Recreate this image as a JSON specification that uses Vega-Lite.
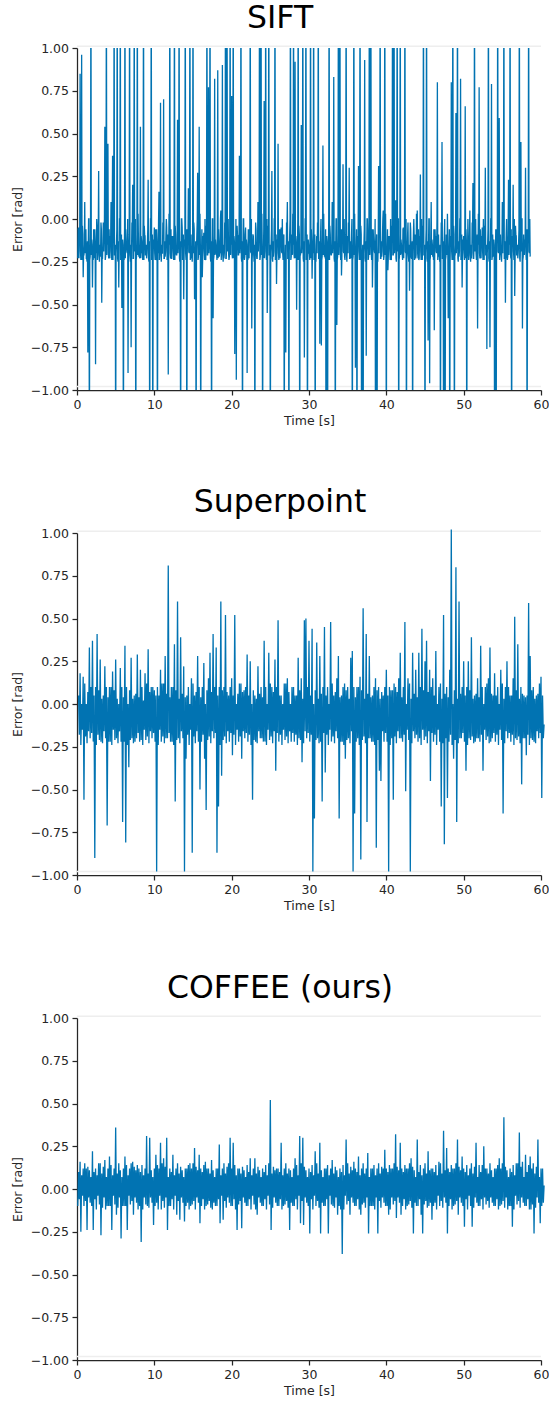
{
"$schema":"https://vega.github.io/schema/vega-lite/v6.json",
"padding":{"left":11,"top":2,"right":0,"bottom":0},
"spacing":60,
"config":{"view":{"stroke":null},"font":"DejaVu Sans",
"axis":{"grid":false,"domainColor":"#262626","domainWidth":1.25,"tickColor":"#262626","tickWidth":1.25,"tickSize":5,"labelColor":"#262626","labelFontSize":12.5,"labelFont":"DejaVu Sans","labelPadding":3.5,"titleFont":"DejaVu Sans","titleFontSize":12.5,"titleFontWeight":"normal","titleColor":"#262626","labelFlush":false,"labelOverlap":false},
"axisY":{"titlePadding":6},"axisX":{"titlePadding":3},
"title":{"fontSize":31.5,"font":"DejaVu Sans","fontWeight":"normal","color":"#000000","anchor":"middle","frame":"bounds","offset":8}},
"datasets":{
"lim":[{"y":1.01},{"y":-0.98}],
"sift":[
{"t":0.1,"e":-0.23},{"t":0.15,"e":-0.06},{"t":0.2,"e":-0.05},{"t":0.25,"e":-0.23},{"t":0.3,"e":-0.1},{"t":0.35,"e":-0.13},{"t":0.4,"e":0.85},{"t":0.45,"e":-0.19},{"t":0.5,"e":-0.24},{"t":0.55,"e":0.0},{"t":0.6,"e":0.96},{"t":0.65,"e":-0.24},{"t":0.7,"e":-0.04},{"t":0.75,"e":-0.09},{"t":0.8,"e":-0.34},{"t":0.85,"e":-0.21},{"t":0.9,"e":-0.21},{"t":0.95,"e":-0.15},{"t":1.0,"e":0.1},{"t":1.05,"e":-0.2},
{"t":1.1,"e":-0.15},{"t":1.15,"e":-0.06},{"t":1.2,"e":-0.23},{"t":1.25,"e":-0.23},{"t":1.3,"e":-0.25},{"t":1.35,"e":-0.13},{"t":1.4,"e":-0.78},{"t":1.45,"e":-0.19},{"t":1.5,"e":0.0},{"t":1.55,"e":0.0},{"t":1.6,"e":-1.5},{"t":1.65,"e":-0.24},{"t":1.7,"e":-0.22},{"t":1.75,"e":-0.09},{"t":1.8,"e":1.5},{"t":1.85,"e":-0.21},{"t":1.9,"e":-0.12},{"t":1.95,"e":-0.15},{"t":2.0,"e":-0.4},{"t":2.05,"e":-0.2},
{"t":2.1,"e":-0.24},{"t":2.15,"e":-0.06},{"t":2.2,"e":-0.1},{"t":2.25,"e":-0.23},{"t":2.3,"e":-0.06},{"t":2.35,"e":-0.13},{"t":2.4,"e":-0.85},{"t":2.45,"e":-0.19},{"t":2.5,"e":-0.2},{"t":2.55,"e":0.0},{"t":2.6,"e":-0.05},{"t":2.65,"e":-0.24},{"t":2.7,"e":-0.17},{"t":2.75,"e":-0.09},{"t":2.8,"e":0.28},{"t":2.85,"e":-0.21},{"t":2.9,"e":-0.25},{"t":2.95,"e":-0.15},{"t":3.0,"e":-0.22},{"t":3.05,"e":-0.2},
{"t":3.1,"e":-0.02},{"t":3.15,"e":-0.06},{"t":3.2,"e":-0.49},{"t":3.25,"e":-0.23},{"t":3.3,"e":-0.23},{"t":3.35,"e":-0.13},{"t":3.4,"e":-0.02},{"t":3.45,"e":-0.19},{"t":3.5,"e":-0.09},{"t":3.55,"e":0.0},{"t":3.6,"e":0.54},{"t":3.65,"e":-0.24},{"t":3.7,"e":-0.22},{"t":3.75,"e":-0.09},{"t":3.8,"e":1.5},{"t":3.85,"e":-0.21},{"t":3.9,"e":0.03},{"t":3.95,"e":-0.15},{"t":4.0,"e":0.44},{"t":4.05,"e":-0.2},
{"t":4.1,"e":-0.23},{"t":4.15,"e":-0.06},{"t":4.2,"e":-0.2},{"t":4.25,"e":-0.23},{"t":4.3,"e":-0.1},{"t":4.35,"e":-0.13},{"t":4.4,"e":0.1},{"t":4.45,"e":-0.19},{"t":4.5,"e":-0.24},{"t":4.55,"e":0.0},{"t":4.6,"e":0.37},{"t":4.65,"e":-0.24},{"t":4.7,"e":-0.04},{"t":4.75,"e":-0.09},{"t":4.8,"e":1.5},{"t":4.85,"e":-0.21},{"t":4.9,"e":-0.21},{"t":4.95,"e":-0.15},{"t":5.0,"e":-1.5},{"t":5.05,"e":-0.2},
{"t":5.1,"e":-0.15},{"t":5.15,"e":-0.06},{"t":5.2,"e":1.5},{"t":5.25,"e":-0.23},{"t":5.3,"e":-0.25},{"t":5.35,"e":-0.13},{"t":5.4,"e":-0.4},{"t":5.45,"e":-0.19},{"t":5.5,"e":0.0},{"t":5.55,"e":0.0},{"t":5.6,"e":1.5},{"t":5.65,"e":-0.24},{"t":5.7,"e":-0.22},{"t":5.75,"e":-0.09},{"t":5.8,"e":-0.52},{"t":5.85,"e":-0.21},{"t":5.9,"e":-0.12},{"t":5.95,"e":-0.15},{"t":6.0,"e":-1.5},{"t":6.05,"e":-0.2},
{"t":6.1,"e":-0.24},{"t":6.15,"e":-0.06},{"t":6.2,"e":1.5},{"t":6.25,"e":-0.23},{"t":6.3,"e":-0.06},{"t":6.35,"e":-0.13},{"t":6.4,"e":-0.15},{"t":6.45,"e":-0.19},{"t":6.5,"e":-0.2},{"t":6.55,"e":0.0},{"t":6.6,"e":-0.9},{"t":6.65,"e":-0.24},{"t":6.7,"e":-0.17},{"t":6.75,"e":-0.09},{"t":6.8,"e":1.5},{"t":6.85,"e":-0.21},{"t":6.9,"e":-0.25},{"t":6.95,"e":-0.15},{"t":7.0,"e":-0.75},{"t":7.05,"e":-0.2},
{"t":7.1,"e":-0.02},{"t":7.15,"e":-0.06},{"t":7.2,"e":0.2},{"t":7.25,"e":-0.23},{"t":7.3,"e":-0.23},{"t":7.35,"e":-0.13},{"t":7.4,"e":1.5},{"t":7.45,"e":-0.19},{"t":7.5,"e":-0.09},{"t":7.55,"e":0.0},{"t":7.6,"e":-1.5},{"t":7.65,"e":-0.24},{"t":7.7,"e":-0.22},{"t":7.75,"e":-0.09},{"t":7.8,"e":1.5},{"t":7.85,"e":-0.21},{"t":7.9,"e":0.03},{"t":7.95,"e":-0.15},{"t":8.0,"e":-0.22},{"t":8.05,"e":-0.2},
{"t":8.1,"e":-0.23},{"t":8.15,"e":-0.06},{"t":8.2,"e":0.54},{"t":8.25,"e":-0.23},{"t":8.3,"e":-0.1},{"t":8.35,"e":-0.13},{"t":8.4,"e":-0.2},{"t":8.45,"e":-0.19},{"t":8.5,"e":-0.24},{"t":8.55,"e":0.0},{"t":8.6,"e":1.5},{"t":8.65,"e":-0.24},{"t":8.7,"e":-0.04},{"t":8.75,"e":-0.09},{"t":8.8,"e":-0.1},{"t":8.85,"e":-0.21},{"t":8.9,"e":-0.21},{"t":8.95,"e":-0.15},{"t":9.0,"e":-0.23},{"t":9.05,"e":-0.2},
{"t":9.1,"e":-0.15},{"t":9.15,"e":-0.06},{"t":9.2,"e":0.23},{"t":9.25,"e":-0.23},{"t":9.3,"e":-0.25},{"t":9.35,"e":-0.13},{"t":9.4,"e":-1.5},{"t":9.45,"e":-0.19},{"t":9.5,"e":0.0},{"t":9.55,"e":0.0},{"t":9.6,"e":1.5},{"t":9.65,"e":-0.24},{"t":9.7,"e":-0.22},{"t":9.75,"e":-0.09},{"t":9.8,"e":-1.5},{"t":9.85,"e":-0.21},{"t":9.9,"e":-0.12},{"t":9.95,"e":-0.15},{"t":10.0,"e":-0.05},{"t":10.05,"e":-0.2},
{"t":10.1,"e":-0.24},{"t":10.15,"e":-0.06},{"t":10.2,"e":-0.24},{"t":10.25,"e":-0.23},{"t":10.3,"e":-0.06},{"t":10.35,"e":-0.13},{"t":10.4,"e":-1.5},{"t":10.45,"e":-0.19},{"t":10.5,"e":-0.2},{"t":10.55,"e":0.0},{"t":10.6,"e":0.16},{"t":10.65,"e":-0.24},{"t":10.7,"e":-0.17},{"t":10.75,"e":-0.09},{"t":10.8,"e":0.68},{"t":10.85,"e":-0.21},{"t":10.9,"e":-0.25},{"t":10.95,"e":-0.15},{"t":11.0,"e":-0.2},{"t":11.05,"e":-0.2},
{"t":11.1,"e":-0.02},{"t":11.15,"e":-0.06},{"t":11.2,"e":0.7},{"t":11.25,"e":-0.23},{"t":11.3,"e":-0.23},{"t":11.35,"e":-0.13},{"t":11.4,"e":-0.22},{"t":11.45,"e":-0.19},{"t":11.5,"e":-0.09},{"t":11.55,"e":0.0},{"t":11.6,"e":-0.05},{"t":11.65,"e":-0.24},{"t":11.7,"e":-0.22},{"t":11.75,"e":-0.09},{"t":11.8,"e":-0.91},{"t":11.85,"e":-0.21},{"t":11.9,"e":0.03},{"t":11.95,"e":-0.15},{"t":12.0,"e":1.5},{"t":12.05,"e":-0.2},
{"t":12.1,"e":-0.23},{"t":12.15,"e":-0.06},{"t":12.2,"e":-0.23},{"t":12.25,"e":-0.23},{"t":12.3,"e":-0.1},{"t":12.35,"e":-0.13},{"t":12.4,"e":-0.1},{"t":12.45,"e":-0.19},{"t":12.5,"e":-0.24},{"t":12.55,"e":0.0},{"t":12.6,"e":1.5},{"t":12.65,"e":-0.24},{"t":12.7,"e":-0.04},{"t":12.75,"e":-0.09},{"t":12.8,"e":-0.2},{"t":12.85,"e":-0.21},{"t":12.9,"e":-0.21},{"t":12.95,"e":-0.15},{"t":13.0,"e":0.58},{"t":13.05,"e":-0.2},
{"t":13.1,"e":-0.15},{"t":13.15,"e":-0.06},{"t":13.2,"e":1.5},{"t":13.25,"e":-0.23},{"t":13.3,"e":-0.25},{"t":13.35,"e":-0.13},{"t":13.4,"e":-1.5},{"t":13.45,"e":-0.19},{"t":13.5,"e":0.0},{"t":13.55,"e":0.0},{"t":13.6,"e":-0.05},{"t":13.65,"e":-0.24},{"t":13.7,"e":-0.22},{"t":13.75,"e":-0.09},{"t":13.8,"e":-0.47},{"t":13.85,"e":-0.21},{"t":13.9,"e":-0.12},{"t":13.95,"e":-0.15},{"t":14.0,"e":1.5},{"t":14.05,"e":-0.2},
{"t":14.1,"e":-0.24},{"t":14.15,"e":-0.06},{"t":14.2,"e":-1.5},{"t":14.25,"e":-0.23},{"t":14.3,"e":-0.06},{"t":14.35,"e":-0.13},{"t":14.4,"e":0.18},{"t":14.45,"e":-0.19},{"t":14.5,"e":-0.2},{"t":14.55,"e":0.0},{"t":14.6,"e":1.5},{"t":14.65,"e":-0.24},{"t":14.7,"e":-0.17},{"t":14.75,"e":-0.09},{"t":14.8,"e":-0.23},{"t":14.85,"e":-0.21},{"t":14.9,"e":-0.25},{"t":14.95,"e":-0.15},{"t":15.0,"e":1.5},{"t":15.05,"e":-0.2},
{"t":15.1,"e":-0.02},{"t":15.15,"e":-0.06},{"t":15.2,"e":-0.47},{"t":15.25,"e":-0.23},{"t":15.3,"e":-0.23},{"t":15.35,"e":-0.13},{"t":15.4,"e":-1.5},{"t":15.45,"e":-0.19},{"t":15.5,"e":-0.09},{"t":15.55,"e":0.0},{"t":15.6,"e":0.27},{"t":15.65,"e":-0.24},{"t":15.7,"e":-0.22},{"t":15.75,"e":-0.09},{"t":15.8,"e":0.54},{"t":15.85,"e":-0.21},{"t":15.9,"e":0.03},{"t":15.95,"e":-0.15},{"t":16.0,"e":-1.5},{"t":16.05,"e":-0.2},
{"t":16.1,"e":-0.23},{"t":16.15,"e":-0.06},{"t":16.2,"e":-0.34},{"t":16.25,"e":-0.23},{"t":16.3,"e":-0.1},{"t":16.35,"e":-0.13},{"t":16.4,"e":-0.08},{"t":16.45,"e":-0.19},{"t":16.5,"e":-0.24},{"t":16.55,"e":0.0},{"t":16.6,"e":-0.23},{"t":16.65,"e":-0.24},{"t":16.7,"e":-0.04},{"t":16.75,"e":-0.09},{"t":16.8,"e":1.5},{"t":16.85,"e":-0.21},{"t":16.9,"e":-0.21},{"t":16.95,"e":-0.15},{"t":17.0,"e":0.77},{"t":17.05,"e":-0.2},
{"t":17.1,"e":-0.15},{"t":17.15,"e":-0.06},{"t":17.2,"e":1.5},{"t":17.25,"e":-0.23},{"t":17.3,"e":-0.25},{"t":17.35,"e":-0.13},{"t":17.4,"e":-1.5},{"t":17.45,"e":-0.19},{"t":17.5,"e":0.0},{"t":17.55,"e":0.0},{"t":17.6,"e":-0.58},{"t":17.65,"e":-0.24},{"t":17.7,"e":-0.22},{"t":17.75,"e":-0.09},{"t":17.8,"e":0.82},{"t":17.85,"e":-0.21},{"t":17.9,"e":-0.12},{"t":17.95,"e":-0.15},{"t":18.0,"e":-0.2},{"t":18.05,"e":-0.2},
{"t":18.1,"e":-0.24},{"t":18.15,"e":-0.06},{"t":18.2,"e":0.87},{"t":18.25,"e":-0.23},{"t":18.3,"e":-0.06},{"t":18.35,"e":-0.13},{"t":18.4,"e":-0.22},{"t":18.45,"e":-0.19},{"t":18.5,"e":-0.2},{"t":18.55,"e":0.0},{"t":18.6,"e":0.05},{"t":18.65,"e":-0.24},{"t":18.7,"e":-0.17},{"t":18.75,"e":-0.09},{"t":18.8,"e":0.9},{"t":18.85,"e":-0.21},{"t":18.9,"e":-0.25},{"t":18.95,"e":-0.15},{"t":19.0,"e":-0.23},{"t":19.05,"e":-0.2},
{"t":19.1,"e":-0.02},{"t":19.15,"e":-0.06},{"t":19.2,"e":1.5},{"t":19.25,"e":-0.23},{"t":19.3,"e":-0.23},{"t":19.35,"e":-0.13},{"t":19.4,"e":1.5},{"t":19.45,"e":-0.19},{"t":19.5,"e":-0.09},{"t":19.55,"e":0.0},{"t":19.6,"e":-0.2},{"t":19.65,"e":-0.24},{"t":19.7,"e":-0.22},{"t":19.75,"e":-0.09},{"t":19.8,"e":1.5},{"t":19.85,"e":-0.21},{"t":19.9,"e":0.03},{"t":19.95,"e":-0.15},{"t":20.0,"e":0.72},{"t":20.05,"e":-0.2},
{"t":20.1,"e":-0.23},{"t":20.15,"e":-0.06},{"t":20.2,"e":1.5},{"t":20.25,"e":-0.23},{"t":20.3,"e":-0.1},{"t":20.35,"e":-0.13},{"t":20.4,"e":-0.79},{"t":20.45,"e":-0.19},{"t":20.5,"e":-0.24},{"t":20.55,"e":0.0},{"t":20.6,"e":-0.94},{"t":20.65,"e":-0.24},{"t":20.7,"e":-0.04},{"t":20.75,"e":-0.09},{"t":20.8,"e":-0.1},{"t":20.85,"e":-0.21},{"t":20.9,"e":-0.21},{"t":20.95,"e":-0.15},{"t":21.0,"e":0.37},{"t":21.05,"e":-0.2},
{"t":21.1,"e":-0.15},{"t":21.15,"e":-0.06},{"t":21.2,"e":1.5},{"t":21.25,"e":-0.23},{"t":21.3,"e":-0.25},{"t":21.35,"e":-0.13},{"t":21.4,"e":-1.5},{"t":21.45,"e":-0.19},{"t":21.5,"e":0.0},{"t":21.55,"e":0.0},{"t":21.6,"e":-0.22},{"t":21.65,"e":-0.24},{"t":21.7,"e":-0.22},{"t":21.75,"e":-0.09},{"t":21.8,"e":-0.05},{"t":21.85,"e":-0.21},{"t":21.9,"e":-0.12},{"t":21.95,"e":-0.15},{"t":22.0,"e":-0.9},{"t":22.05,"e":-0.2},
{"t":22.1,"e":-0.24},{"t":22.15,"e":-0.06},{"t":22.2,"e":-0.2},{"t":22.25,"e":-0.23},{"t":22.3,"e":-0.06},{"t":22.35,"e":-0.13},{"t":22.4,"e":1.5},{"t":22.45,"e":-0.19},{"t":22.5,"e":-0.2},{"t":22.55,"e":0.0},{"t":22.6,"e":-0.64},{"t":22.65,"e":-0.24},{"t":22.7,"e":-0.17},{"t":22.75,"e":-0.09},{"t":22.8,"e":-0.1},{"t":22.85,"e":-0.21},{"t":22.9,"e":-0.25},{"t":22.95,"e":-0.15},{"t":23.0,"e":-1.5},{"t":23.05,"e":-0.2},
{"t":23.1,"e":-0.02},{"t":23.15,"e":-0.06},{"t":23.2,"e":-0.2},{"t":23.25,"e":-0.23},{"t":23.3,"e":-0.23},{"t":23.35,"e":-0.13},{"t":23.4,"e":0.1},{"t":23.45,"e":-0.19},{"t":23.5,"e":-0.09},{"t":23.55,"e":0.0},{"t":23.6,"e":1.5},{"t":23.65,"e":-0.24},{"t":23.7,"e":-0.22},{"t":23.75,"e":-0.09},{"t":23.8,"e":1.5},{"t":23.85,"e":-0.21},{"t":23.9,"e":0.03},{"t":23.95,"e":-0.15},{"t":24.0,"e":-1.5},{"t":24.05,"e":-0.2},
{"t":24.1,"e":-0.23},{"t":24.15,"e":-0.06},{"t":24.2,"e":0.69},{"t":24.25,"e":-0.23},{"t":24.3,"e":-0.1},{"t":24.35,"e":-0.13},{"t":24.4,"e":1.5},{"t":24.45,"e":-0.19},{"t":24.5,"e":-0.24},{"t":24.55,"e":0.0},{"t":24.6,"e":-0.55},{"t":24.65,"e":-0.24},{"t":24.7,"e":-0.04},{"t":24.75,"e":-0.09},{"t":24.8,"e":1.5},{"t":24.85,"e":-0.21},{"t":24.9,"e":-0.21},{"t":24.95,"e":-0.15},{"t":25.0,"e":-1.5},{"t":25.05,"e":-0.2},
{"t":25.1,"e":-0.15},{"t":25.15,"e":-0.06},{"t":25.2,"e":0.28},{"t":25.25,"e":-0.23},{"t":25.3,"e":-0.25},{"t":25.35,"e":-0.13},{"t":25.4,"e":-0.22},{"t":25.45,"e":-0.19},{"t":25.5,"e":0.0},{"t":25.55,"e":0.0},{"t":25.6,"e":1.5},{"t":25.65,"e":-0.24},{"t":25.7,"e":-0.22},{"t":25.75,"e":-0.09},{"t":25.8,"e":-0.38},{"t":25.85,"e":-0.21},{"t":25.9,"e":-0.12},{"t":25.95,"e":-0.15},{"t":26.0,"e":0.44},{"t":26.05,"e":-0.2},
{"t":26.1,"e":-0.24},{"t":26.15,"e":-0.06},{"t":26.2,"e":-0.22},{"t":26.25,"e":-0.23},{"t":26.3,"e":-0.06},{"t":26.35,"e":-0.13},{"t":26.4,"e":-0.05},{"t":26.45,"e":-0.19},{"t":26.5,"e":-0.2},{"t":26.55,"e":0.0},{"t":26.6,"e":-0.2},{"t":26.65,"e":-0.24},{"t":26.7,"e":-0.17},{"t":26.75,"e":-0.09},{"t":26.8,"e":-1.5},{"t":26.85,"e":-0.21},{"t":26.9,"e":-0.25},{"t":26.95,"e":-0.15},{"t":27.0,"e":-0.78},{"t":27.05,"e":-0.2},
{"t":27.1,"e":-0.02},{"t":27.15,"e":-0.06},{"t":27.2,"e":0.1},{"t":27.25,"e":-0.23},{"t":27.3,"e":-0.23},{"t":27.35,"e":-0.13},{"t":27.4,"e":-1.5},{"t":27.45,"e":-0.19},{"t":27.5,"e":-0.09},{"t":27.55,"e":0.0},{"t":27.6,"e":1.5},{"t":27.65,"e":-0.24},{"t":27.7,"e":-0.22},{"t":27.75,"e":-0.09},{"t":27.8,"e":-0.18},{"t":27.85,"e":-0.21},{"t":27.9,"e":0.03},{"t":27.95,"e":-0.15},{"t":28.0,"e":1.5},{"t":28.05,"e":-0.2},
{"t":28.1,"e":-0.23},{"t":28.15,"e":-0.06},{"t":28.2,"e":0.92},{"t":28.25,"e":-0.23},{"t":28.3,"e":-0.1},{"t":28.35,"e":-0.13},{"t":28.4,"e":-0.53},{"t":28.45,"e":-0.19},{"t":28.5,"e":-0.24},{"t":28.55,"e":0.0},{"t":28.6,"e":1.5},{"t":28.65,"e":-0.24},{"t":28.7,"e":-0.04},{"t":28.75,"e":-0.09},{"t":28.8,"e":-1.5},{"t":28.85,"e":-0.21},{"t":28.9,"e":-0.21},{"t":28.95,"e":-0.15},{"t":29.0,"e":0.55},{"t":29.05,"e":-0.2},
{"t":29.1,"e":-0.15},{"t":29.15,"e":-0.06},{"t":29.2,"e":1.5},{"t":29.25,"e":-0.23},{"t":29.3,"e":-0.25},{"t":29.35,"e":-0.13},{"t":29.4,"e":-0.81},{"t":29.45,"e":-0.19},{"t":29.5,"e":0.0},{"t":29.55,"e":0.0},{"t":29.6,"e":1.5},{"t":29.65,"e":-0.24},{"t":29.7,"e":-0.22},{"t":29.75,"e":-0.09},{"t":29.8,"e":-1.5},{"t":29.85,"e":-0.21},{"t":29.9,"e":-0.12},{"t":29.95,"e":-0.15},{"t":30.0,"e":-0.2},{"t":30.05,"e":-0.2},
{"t":30.1,"e":-0.24},{"t":30.15,"e":-0.06},{"t":30.2,"e":1.5},{"t":30.25,"e":-0.23},{"t":30.3,"e":-0.06},{"t":30.35,"e":-0.13},{"t":30.4,"e":-0.35},{"t":30.45,"e":-0.19},{"t":30.5,"e":-0.2},{"t":30.55,"e":0.0},{"t":30.6,"e":1.5},{"t":30.65,"e":-0.24},{"t":30.7,"e":-0.17},{"t":30.75,"e":-0.09},{"t":30.8,"e":-1.5},{"t":30.85,"e":-0.21},{"t":30.9,"e":-0.25},{"t":30.95,"e":-0.15},{"t":31.0,"e":-0.1},{"t":31.05,"e":-0.2},
{"t":31.1,"e":-0.02},{"t":31.15,"e":-0.06},{"t":31.2,"e":1.5},{"t":31.25,"e":-0.23},{"t":31.3,"e":-0.23},{"t":31.35,"e":-0.13},{"t":31.4,"e":-0.73},{"t":31.45,"e":-0.19},{"t":31.5,"e":-0.09},{"t":31.55,"e":0.0},{"t":31.6,"e":-0.74},{"t":31.65,"e":-0.24},{"t":31.7,"e":-0.22},{"t":31.75,"e":-0.09},{"t":31.8,"e":0.43},{"t":31.85,"e":-0.21},{"t":31.9,"e":0.03},{"t":31.95,"e":-0.15},{"t":32.0,"e":-0.22},{"t":32.05,"e":-0.2},
{"t":32.1,"e":-0.23},{"t":32.15,"e":-0.06},{"t":32.2,"e":-1.5},{"t":32.25,"e":-0.23},{"t":32.3,"e":-0.1},{"t":32.35,"e":-0.13},{"t":32.4,"e":-1.5},{"t":32.45,"e":-0.19},{"t":32.5,"e":-0.24},{"t":32.55,"e":0.0},{"t":32.6,"e":1.5},{"t":32.65,"e":-0.24},{"t":32.7,"e":-0.04},{"t":32.75,"e":-0.09},{"t":32.8,"e":-0.2},{"t":32.85,"e":-0.21},{"t":32.9,"e":-0.21},{"t":32.95,"e":-0.15},{"t":33.0,"e":0.1},{"t":33.05,"e":-0.2},
{"t":33.1,"e":-0.15},{"t":33.15,"e":-0.06},{"t":33.2,"e":0.83},{"t":33.25,"e":-0.23},{"t":33.3,"e":-0.25},{"t":33.35,"e":-0.13},{"t":33.4,"e":-1.5},{"t":33.45,"e":-0.19},{"t":33.5,"e":0.0},{"t":33.55,"e":0.0},{"t":33.6,"e":-0.62},{"t":33.65,"e":-0.24},{"t":33.7,"e":-0.22},{"t":33.75,"e":-0.09},{"t":33.8,"e":1.5},{"t":33.85,"e":-0.21},{"t":33.9,"e":-0.12},{"t":33.95,"e":-0.15},{"t":34.0,"e":1.5},{"t":34.05,"e":-0.2},
{"t":34.1,"e":-0.24},{"t":34.15,"e":-0.06},{"t":34.2,"e":-0.33},{"t":34.25,"e":-0.23},{"t":34.3,"e":-0.06},{"t":34.35,"e":-0.13},{"t":34.4,"e":0.32},{"t":34.45,"e":-0.19},{"t":34.5,"e":-0.2},{"t":34.55,"e":0.0},{"t":34.6,"e":-0.22},{"t":34.65,"e":-0.24},{"t":34.7,"e":-0.17},{"t":34.75,"e":-0.09},{"t":34.8,"e":1.5},{"t":34.85,"e":-0.21},{"t":34.9,"e":-0.25},{"t":34.95,"e":-0.15},{"t":35.0,"e":-0.1},{"t":35.05,"e":-0.2},
{"t":35.1,"e":-0.02},{"t":35.15,"e":-0.06},{"t":35.2,"e":0.3},{"t":35.25,"e":-0.23},{"t":35.3,"e":-0.23},{"t":35.35,"e":-0.13},{"t":35.4,"e":-0.23},{"t":35.45,"e":-0.19},{"t":35.5,"e":-0.09},{"t":35.55,"e":0.0},{"t":35.6,"e":-1.5},{"t":35.65,"e":-0.24},{"t":35.7,"e":-0.22},{"t":35.75,"e":-0.09},{"t":35.8,"e":1.5},{"t":35.85,"e":-0.21},{"t":35.9,"e":0.03},{"t":35.95,"e":-0.15},{"t":36.0,"e":-0.87},{"t":36.05,"e":-0.2},
{"t":36.1,"e":-0.23},{"t":36.15,"e":-0.06},{"t":36.2,"e":-1.5},{"t":36.25,"e":-0.23},{"t":36.3,"e":-0.1},{"t":36.35,"e":-0.13},{"t":36.4,"e":0.31},{"t":36.45,"e":-0.19},{"t":36.5,"e":-0.24},{"t":36.55,"e":0.0},{"t":36.6,"e":1.5},{"t":36.65,"e":-0.24},{"t":36.7,"e":-0.04},{"t":36.75,"e":-0.09},{"t":36.8,"e":-1.5},{"t":36.85,"e":-0.21},{"t":36.9,"e":-0.21},{"t":36.95,"e":-0.15},{"t":37.0,"e":-1.5},{"t":37.05,"e":-0.2},
{"t":37.1,"e":-0.15},{"t":37.15,"e":-0.06},{"t":37.2,"e":0.93},{"t":37.25,"e":-0.23},{"t":37.3,"e":-0.25},{"t":37.35,"e":-0.13},{"t":37.4,"e":-0.8},{"t":37.45,"e":-0.19},{"t":37.5,"e":0.0},{"t":37.55,"e":0.0},{"t":37.6,"e":-0.1},{"t":37.65,"e":-0.24},{"t":37.7,"e":-0.22},{"t":37.75,"e":-0.09},{"t":37.8,"e":1.5},{"t":37.85,"e":-0.21},{"t":37.9,"e":-0.12},{"t":37.95,"e":-0.15},{"t":38.0,"e":1.5},{"t":38.05,"e":-0.2},
{"t":38.1,"e":-0.24},{"t":38.15,"e":-0.06},{"t":38.2,"e":-0.4},{"t":38.25,"e":-0.23},{"t":38.3,"e":-0.06},{"t":38.35,"e":-0.13},{"t":38.4,"e":-0.15},{"t":38.45,"e":-0.19},{"t":38.5,"e":-0.2},{"t":38.55,"e":0.0},{"t":38.6,"e":-1.5},{"t":38.65,"e":-0.24},{"t":38.7,"e":-0.17},{"t":38.75,"e":-0.09},{"t":38.8,"e":-1.5},{"t":38.85,"e":-0.21},{"t":38.9,"e":-0.25},{"t":38.95,"e":-0.15},{"t":39.0,"e":0.31},{"t":39.05,"e":-0.2},
{"t":39.1,"e":-0.02},{"t":39.15,"e":-0.06},{"t":39.2,"e":1.5},{"t":39.25,"e":-0.23},{"t":39.3,"e":-0.23},{"t":39.35,"e":-0.13},{"t":39.4,"e":-0.22},{"t":39.45,"e":-0.19},{"t":39.5,"e":-0.09},{"t":39.55,"e":0.0},{"t":39.6,"e":0.05},{"t":39.65,"e":-0.24},{"t":39.7,"e":-0.22},{"t":39.75,"e":-0.09},{"t":39.8,"e":1.5},{"t":39.85,"e":-0.21},{"t":39.9,"e":0.03},{"t":39.95,"e":-0.15},{"t":40.0,"e":-1.5},{"t":40.05,"e":-0.2},
{"t":40.1,"e":-0.23},{"t":40.15,"e":-0.06},{"t":40.2,"e":-0.3},{"t":40.25,"e":-0.23},{"t":40.3,"e":-0.1},{"t":40.35,"e":-0.13},{"t":40.4,"e":-0.1},{"t":40.45,"e":-0.19},{"t":40.5,"e":-0.24},{"t":40.55,"e":0.0},{"t":40.6,"e":-0.23},{"t":40.65,"e":-0.24},{"t":40.7,"e":-0.04},{"t":40.75,"e":-0.09},{"t":40.8,"e":1.5},{"t":40.85,"e":-0.21},{"t":40.9,"e":-0.21},{"t":40.95,"e":-0.15},{"t":41.0,"e":1.5},{"t":41.05,"e":-0.2},
{"t":41.1,"e":-0.15},{"t":41.15,"e":-0.06},{"t":41.2,"e":0.11},{"t":41.25,"e":-0.23},{"t":41.3,"e":-0.25},{"t":41.35,"e":-0.13},{"t":41.4,"e":1.5},{"t":41.45,"e":-0.19},{"t":41.5,"e":0.0},{"t":41.55,"e":0.0},{"t":41.6,"e":-1.5},{"t":41.65,"e":-0.24},{"t":41.7,"e":-0.22},{"t":41.75,"e":-0.09},{"t":41.8,"e":1.5},{"t":41.85,"e":-0.21},{"t":41.9,"e":-0.12},{"t":41.95,"e":-0.15},{"t":42.0,"e":-0.2},{"t":42.05,"e":-0.2},
{"t":42.1,"e":-0.24},{"t":42.15,"e":-0.06},{"t":42.2,"e":-0.05},{"t":42.25,"e":-0.23},{"t":42.3,"e":-0.06},{"t":42.35,"e":-0.13},{"t":42.4,"e":1.5},{"t":42.45,"e":-0.19},{"t":42.5,"e":-0.2},{"t":42.55,"e":0.0},{"t":42.6,"e":-1.5},{"t":42.65,"e":-0.24},{"t":42.7,"e":-0.17},{"t":42.75,"e":-0.09},{"t":42.8,"e":-0.02},{"t":42.85,"e":-0.21},{"t":42.9,"e":-0.25},{"t":42.95,"e":-0.15},{"t":43.0,"e":-0.42},{"t":43.05,"e":-0.2},
{"t":43.1,"e":-0.02},{"t":43.15,"e":-0.06},{"t":43.2,"e":-0.22},{"t":43.25,"e":-0.23},{"t":43.3,"e":-0.23},{"t":43.35,"e":-0.13},{"t":43.4,"e":-1.5},{"t":43.45,"e":-0.19},{"t":43.5,"e":-0.09},{"t":43.55,"e":0.0},{"t":43.6,"e":-0.1},{"t":43.65,"e":-0.24},{"t":43.7,"e":-0.22},{"t":43.75,"e":-0.09},{"t":43.8,"e":-0.23},{"t":43.85,"e":-0.21},{"t":43.9,"e":0.03},{"t":43.95,"e":-0.15},{"t":44.0,"e":0.05},{"t":44.05,"e":-0.2},
{"t":44.1,"e":-0.23},{"t":44.15,"e":-0.06},{"t":44.2,"e":-0.24},{"t":44.25,"e":-0.23},{"t":44.3,"e":-0.1},{"t":44.35,"e":-0.13},{"t":44.4,"e":0.26},{"t":44.45,"e":-0.19},{"t":44.5,"e":-0.24},{"t":44.55,"e":0.0},{"t":44.6,"e":-0.2},{"t":44.65,"e":-0.24},{"t":44.7,"e":-0.04},{"t":44.75,"e":-0.09},{"t":44.8,"e":1.5},{"t":44.85,"e":-0.21},{"t":44.9,"e":-0.21},{"t":44.95,"e":-0.15},{"t":45.0,"e":-1.5},{"t":45.05,"e":-0.2},
{"t":45.1,"e":-0.15},{"t":45.15,"e":-0.06},{"t":45.2,"e":1.5},{"t":45.25,"e":-0.23},{"t":45.3,"e":-0.25},{"t":45.35,"e":-0.13},{"t":45.4,"e":-0.71},{"t":45.45,"e":-0.19},{"t":45.5,"e":0.0},{"t":45.55,"e":0.0},{"t":45.6,"e":-0.96},{"t":45.65,"e":-0.24},{"t":45.7,"e":-0.22},{"t":45.75,"e":-0.09},{"t":45.8,"e":0.1},{"t":45.85,"e":-0.21},{"t":45.9,"e":-0.12},{"t":45.95,"e":-0.15},{"t":46.0,"e":-0.22},{"t":46.05,"e":-0.2},
{"t":46.1,"e":-0.24},{"t":46.15,"e":-0.06},{"t":46.2,"e":-0.65},{"t":46.25,"e":-0.23},{"t":46.3,"e":-0.06},{"t":46.35,"e":-0.13},{"t":46.4,"e":-0.1},{"t":46.45,"e":-0.19},{"t":46.5,"e":-0.2},{"t":46.55,"e":0.0},{"t":46.6,"e":0.8},{"t":46.65,"e":-0.24},{"t":46.7,"e":-0.17},{"t":46.75,"e":-0.09},{"t":46.8,"e":-0.22},{"t":46.85,"e":-0.21},{"t":46.9,"e":-0.25},{"t":46.95,"e":-0.15},{"t":47.0,"e":-1.5},{"t":47.05,"e":-0.2},
{"t":47.1,"e":-0.02},{"t":47.15,"e":-0.06},{"t":47.2,"e":0.45},{"t":47.25,"e":-0.23},{"t":47.3,"e":-0.23},{"t":47.35,"e":-0.13},{"t":47.4,"e":-1.5},{"t":47.45,"e":-0.19},{"t":47.5,"e":-0.09},{"t":47.55,"e":0.0},{"t":47.6,"e":-1.5},{"t":47.65,"e":-0.24},{"t":47.7,"e":-0.22},{"t":47.75,"e":-0.09},{"t":47.8,"e":-0.1},{"t":47.85,"e":-0.21},{"t":47.9,"e":0.03},{"t":47.95,"e":-0.15},{"t":48.0,"e":-0.58},{"t":48.05,"e":-0.2},
{"t":48.1,"e":-0.23},{"t":48.15,"e":-0.06},{"t":48.2,"e":-1.5},{"t":48.25,"e":-0.23},{"t":48.3,"e":-0.1},{"t":48.35,"e":-0.13},{"t":48.4,"e":0.8},{"t":48.45,"e":-0.19},{"t":48.5,"e":-0.24},{"t":48.55,"e":0.0},{"t":48.6,"e":1.5},{"t":48.65,"e":-0.24},{"t":48.7,"e":-0.04},{"t":48.75,"e":-0.09},{"t":48.8,"e":-1.5},{"t":48.85,"e":-0.21},{"t":48.9,"e":-0.21},{"t":48.95,"e":-0.15},{"t":49.0,"e":0.62},{"t":49.05,"e":-0.2},
{"t":49.1,"e":-0.15},{"t":49.15,"e":-0.06},{"t":49.2,"e":1.5},{"t":49.25,"e":-0.23},{"t":49.3,"e":-0.25},{"t":49.35,"e":-0.13},{"t":49.4,"e":-0.22},{"t":49.45,"e":-0.19},{"t":49.5,"e":0.0},{"t":49.55,"e":0.0},{"t":49.6,"e":0.82},{"t":49.65,"e":-0.24},{"t":49.7,"e":-0.22},{"t":49.75,"e":-0.09},{"t":49.8,"e":-0.4},{"t":49.85,"e":-0.21},{"t":49.9,"e":-0.12},{"t":49.95,"e":-0.15},{"t":50.0,"e":-0.1},{"t":50.05,"e":-0.2},
{"t":50.1,"e":-0.24},{"t":50.15,"e":-0.06},{"t":50.2,"e":0.66},{"t":50.25,"e":-0.23},{"t":50.3,"e":-0.06},{"t":50.35,"e":-0.13},{"t":50.4,"e":-1.5},{"t":50.45,"e":-0.19},{"t":50.5,"e":-0.2},{"t":50.55,"e":0.0},{"t":50.6,"e":-0.2},{"t":50.65,"e":-0.24},{"t":50.7,"e":-0.17},{"t":50.75,"e":-0.09},{"t":50.8,"e":0.05},{"t":50.85,"e":-0.21},{"t":50.9,"e":-0.25},{"t":50.95,"e":-0.15},{"t":51.0,"e":-0.23},{"t":51.05,"e":-0.2},
{"t":51.1,"e":-0.02},{"t":51.15,"e":-0.06},{"t":51.2,"e":0.21},{"t":51.25,"e":-0.23},{"t":51.3,"e":-0.23},{"t":51.35,"e":-0.13},{"t":51.4,"e":1.5},{"t":51.45,"e":-0.19},{"t":51.5,"e":-0.09},{"t":51.55,"e":0.0},{"t":51.6,"e":-0.2},{"t":51.65,"e":-0.24},{"t":51.7,"e":-0.22},{"t":51.75,"e":-0.09},{"t":51.8,"e":-0.64},{"t":51.85,"e":-0.21},{"t":51.9,"e":0.03},{"t":51.95,"e":-0.15},{"t":52.0,"e":0.77},{"t":52.05,"e":-0.2},
{"t":52.1,"e":-0.23},{"t":52.15,"e":-0.06},{"t":52.2,"e":-0.22},{"t":52.25,"e":-0.23},{"t":52.3,"e":-0.1},{"t":52.35,"e":-0.13},{"t":52.4,"e":-0.05},{"t":52.45,"e":-0.19},{"t":52.5,"e":-0.24},{"t":52.55,"e":0.0},{"t":52.6,"e":-0.2},{"t":52.65,"e":-0.24},{"t":52.7,"e":-0.04},{"t":52.75,"e":-0.09},{"t":52.8,"e":0.3},{"t":52.85,"e":-0.21},{"t":52.9,"e":-0.21},{"t":52.95,"e":-0.15},{"t":53.0,"e":-0.76},{"t":53.05,"e":-0.2},
{"t":53.1,"e":-0.15},{"t":53.15,"e":-0.06},{"t":53.2,"e":1.5},{"t":53.25,"e":-0.23},{"t":53.3,"e":-0.25},{"t":53.35,"e":-0.13},{"t":53.4,"e":-0.75},{"t":53.45,"e":-0.19},{"t":53.5,"e":0.0},{"t":53.55,"e":0.0},{"t":53.6,"e":0.79},{"t":53.65,"e":-0.24},{"t":53.7,"e":-0.22},{"t":53.75,"e":-0.09},{"t":53.8,"e":-0.22},{"t":53.85,"e":-0.21},{"t":53.9,"e":-0.12},{"t":53.95,"e":-0.15},{"t":54.0,"e":-1.5},{"t":54.05,"e":-0.2},
{"t":54.1,"e":-0.24},{"t":54.15,"e":-0.06},{"t":54.2,"e":-1.5},{"t":54.25,"e":-0.23},{"t":54.3,"e":-0.06},{"t":54.35,"e":-0.13},{"t":54.4,"e":1.5},{"t":54.45,"e":-0.19},{"t":54.5,"e":-0.2},{"t":54.55,"e":0.0},{"t":54.6,"e":0.59},{"t":54.65,"e":-0.24},{"t":54.7,"e":-0.17},{"t":54.75,"e":-0.09},{"t":54.8,"e":-0.2},{"t":54.85,"e":-0.21},{"t":54.9,"e":-0.25},{"t":54.95,"e":-0.15},{"t":55.0,"e":0.1},{"t":55.05,"e":-0.2},
{"t":55.1,"e":-0.02},{"t":55.15,"e":-0.06},{"t":55.2,"e":1.5},{"t":55.25,"e":-0.23},{"t":55.3,"e":-0.23},{"t":55.35,"e":-0.13},{"t":55.4,"e":-0.49},{"t":55.45,"e":-0.19},{"t":55.5,"e":-0.09},{"t":55.55,"e":0.0},{"t":55.6,"e":-0.22},{"t":55.65,"e":-0.24},{"t":55.7,"e":-0.22},{"t":55.75,"e":-0.09},{"t":55.8,"e":0.23},{"t":55.85,"e":-0.21},{"t":55.9,"e":0.03},{"t":55.95,"e":-0.15},{"t":56.0,"e":1.5},{"t":56.05,"e":-0.2},
{"t":56.1,"e":-0.23},{"t":56.15,"e":-0.06},{"t":56.2,"e":-1.5},{"t":56.25,"e":-0.23},{"t":56.3,"e":-0.1},{"t":56.35,"e":-0.13},{"t":56.4,"e":0.2},{"t":56.45,"e":-0.19},{"t":56.5,"e":-0.24},{"t":56.55,"e":0.0},{"t":56.6,"e":-0.45},{"t":56.65,"e":-0.24},{"t":56.7,"e":-0.04},{"t":56.75,"e":-0.09},{"t":56.8,"e":-0.1},{"t":56.85,"e":-0.21},{"t":56.9,"e":-0.21},{"t":56.95,"e":-0.15},{"t":57.0,"e":-0.23},{"t":57.05,"e":-0.2},
{"t":57.1,"e":-0.15},{"t":57.15,"e":-0.06},{"t":57.2,"e":1.5},{"t":57.25,"e":-0.23},{"t":57.3,"e":-0.25},{"t":57.35,"e":-0.13},{"t":57.4,"e":0.45},{"t":57.45,"e":-0.19},{"t":57.5,"e":0.0},{"t":57.55,"e":0.0},{"t":57.6,"e":-0.64},{"t":57.65,"e":-0.24},{"t":57.7,"e":-0.22},{"t":57.75,"e":-0.09},{"t":57.8,"e":-0.2},{"t":57.85,"e":-0.21},{"t":57.9,"e":-0.12},{"t":57.95,"e":-0.15},{"t":58.0,"e":0.3},{"t":58.05,"e":-0.2},
{"t":58.1,"e":-0.24},{"t":58.15,"e":-0.06},{"t":58.2,"e":-1.5},{"t":58.25,"e":-0.23},{"t":58.3,"e":-0.06},{"t":58.35,"e":-0.13},{"t":58.4,"e":1.5},{"t":58.45,"e":-0.19},{"t":58.5,"e":-0.2},{"t":58.55,"e":0.0},{"t":58.6,"e":-0.22}
],
"sp":[
{"t":0.2,"e":0.05},{"t":0.3,"e":-0.18},{"t":0.4,"e":0.18},{"t":0.5,"e":-0.24},{"t":0.6,"e":0.0},{"t":0.7,"e":-0.15},{"t":0.8,"e":0.16},{"t":0.9,"e":-0.56},{"t":1.0,"e":0.12},{"t":1.1,"e":-0.19},{"t":1.2,"e":0.0},{"t":1.3,"e":-0.23},{"t":1.4,"e":0.07},{"t":1.5,"e":-0.16},{"t":1.6,"e":0.33},{"t":1.7,"e":-0.2},{"t":1.8,"e":0.1},{"t":1.9,"e":-0.17},{"t":2.0,"e":0.37},
{"t":2.1,"e":-0.22},{"t":2.2,"e":0.05},{"t":2.3,"e":-0.9},{"t":2.4,"e":0.1},{"t":2.5,"e":-0.24},{"t":2.6,"e":0.41},{"t":2.7,"e":-0.18},{"t":2.8,"e":0.08},{"t":2.9,"e":-0.21},{"t":3.0,"e":0.26},{"t":3.1,"e":-0.22},{"t":3.2,"e":0.03},{"t":3.3,"e":-0.23},{"t":3.4,"e":0.05},{"t":3.5,"e":-0.16},{"t":3.6,"e":0.22},{"t":3.7,"e":-0.2},{"t":3.8,"e":0.1},{"t":3.9,"e":-0.71},{"t":4.0,"e":0.04},
{"t":4.1,"e":-0.22},{"t":4.2,"e":0.1},{"t":4.3,"e":-0.22},{"t":4.4,"e":0.1},{"t":4.5,"e":-0.24},{"t":4.6,"e":0.19},{"t":4.7,"e":-0.15},{"t":4.8,"e":0.08},{"t":4.9,"e":-0.21},{"t":5.0,"e":0.26},{"t":5.1,"e":-0.2},{"t":5.2,"e":0.03},{"t":5.3,"e":-0.23},{"t":5.4,"e":0.0},{"t":5.5,"e":-0.16},{"t":5.6,"e":0.21},{"t":5.7,"e":-0.22},{"t":5.8,"e":0.1},{"t":5.9,"e":-0.69},{"t":6.0,"e":0.04},
{"t":6.1,"e":-0.22},{"t":6.2,"e":0.34},{"t":6.3,"e":-0.81},{"t":6.4,"e":0.1},{"t":6.5,"e":-0.24},{"t":6.6,"e":0.0},{"t":6.7,"e":-0.37},{"t":6.8,"e":0.08},{"t":6.9,"e":-0.21},{"t":7.0,"e":0.27},{"t":7.1,"e":-0.2},{"t":7.2,"e":0.03},{"t":7.3,"e":-0.23},{"t":7.4,"e":0.05},{"t":7.5,"e":-0.22},{"t":7.6,"e":0.06},{"t":7.7,"e":-0.2},{"t":7.8,"e":0.29},{"t":7.9,"e":-0.17},{"t":8.0,"e":0.04},
{"t":8.1,"e":-0.22},{"t":8.2,"e":0.2},{"t":8.3,"e":-0.21},{"t":8.4,"e":0.1},{"t":8.5,"e":-0.24},{"t":8.6,"e":0.02},{"t":8.7,"e":-0.15},{"t":8.8,"e":0.18},{"t":8.9,"e":-0.21},{"t":9.0,"e":0.12},{"t":9.1,"e":-0.19},{"t":9.2,"e":0.32},{"t":9.3,"e":-0.23},{"t":9.4,"e":0.07},{"t":9.5,"e":-0.16},{"t":9.6,"e":0.1},{"t":9.7,"e":-0.2},{"t":9.8,"e":0.1},{"t":9.9,"e":-0.17},{"t":10.0,"e":0.08},
{"t":10.1,"e":-0.22},{"t":10.2,"e":0.05},{"t":10.3,"e":-0.98},{"t":10.4,"e":0.1},{"t":10.5,"e":-0.24},{"t":10.6,"e":0.05},{"t":10.7,"e":-0.15},{"t":10.8,"e":0.2},{"t":10.9,"e":-0.22},{"t":11.0,"e":0.12},{"t":11.1,"e":-0.19},{"t":11.2,"e":0.12},{"t":11.3,"e":-0.23},{"t":11.4,"e":0.28},{"t":11.5,"e":-0.2},{"t":11.6,"e":0.06},{"t":11.7,"e":-0.2},{"t":11.8,"e":0.81},{"t":11.9,"e":-0.17},{"t":12.0,"e":0.04},
{"t":12.1,"e":-0.22},{"t":12.2,"e":0.1},{"t":12.3,"e":-0.22},{"t":12.4,"e":0.1},{"t":12.5,"e":-0.24},{"t":12.6,"e":0.35},{"t":12.7,"e":-0.57},{"t":12.8,"e":0.08},{"t":12.9,"e":-0.21},{"t":13.0,"e":0.6},{"t":13.1,"e":-0.2},{"t":13.2,"e":0.03},{"t":13.3,"e":-0.23},{"t":13.4,"e":0.39},{"t":13.5,"e":-0.16},{"t":13.6,"e":0.06},{"t":13.7,"e":-0.2},{"t":13.8,"e":0.22},{"t":13.9,"e":-0.98},{"t":14.0,"e":0.04},
{"t":14.1,"e":-0.32},{"t":14.2,"e":0.05},{"t":14.3,"e":-0.18},{"t":14.4,"e":0.1},{"t":14.5,"e":-0.24},{"t":14.6,"e":0.0},{"t":14.7,"e":-0.15},{"t":14.8,"e":0.15},{"t":14.9,"e":-0.87},{"t":15.0,"e":0.12},{"t":15.1,"e":-0.19},{"t":15.2,"e":0.05},{"t":15.3,"e":-0.23},{"t":15.4,"e":0.07},{"t":15.5,"e":-0.16},{"t":15.6,"e":0.28},{"t":15.7,"e":-0.22},{"t":15.8,"e":0.1},{"t":15.9,"e":-0.5},{"t":16.0,"e":0.04},
{"t":16.1,"e":-0.22},{"t":16.2,"e":0.1},{"t":16.3,"e":-0.18},{"t":16.4,"e":0.24},{"t":16.5,"e":-0.32},{"t":16.6,"e":0.0},{"t":16.7,"e":-0.62},{"t":16.8,"e":0.08},{"t":16.9,"e":-0.21},{"t":17.0,"e":0.15},{"t":17.1,"e":-0.19},{"t":17.2,"e":0.3},{"t":17.3,"e":-0.23},{"t":17.4,"e":0.07},{"t":17.5,"e":-0.16},{"t":17.6,"e":0.41},{"t":17.7,"e":-0.2},{"t":17.8,"e":0.1},{"t":17.9,"e":-0.17},{"t":18.0,"e":0.33},
{"t":18.1,"e":-0.87},{"t":18.2,"e":0.05},{"t":18.3,"e":-0.6},{"t":18.4,"e":0.1},{"t":18.5,"e":-0.24},{"t":18.6,"e":0.6},{"t":18.7,"e":-0.42},{"t":18.8,"e":0.08},{"t":18.9,"e":-0.21},{"t":19.0,"e":0.1},{"t":19.1,"e":-0.19},{"t":19.2,"e":0.52},{"t":19.3,"e":-0.23},{"t":19.4,"e":0.07},{"t":19.5,"e":-0.16},{"t":19.6,"e":0.05},{"t":19.7,"e":-0.22},{"t":19.8,"e":0.1},{"t":19.9,"e":-0.17},{"t":20.0,"e":0.15},
{"t":20.1,"e":-0.3},{"t":20.2,"e":0.05},{"t":20.3,"e":-0.18},{"t":20.4,"e":0.52},{"t":20.5,"e":-0.24},{"t":20.6,"e":0.0},{"t":20.7,"e":-0.15},{"t":20.8,"e":0.06},{"t":20.9,"e":-0.22},{"t":21.0,"e":0.12},{"t":21.1,"e":-0.19},{"t":21.2,"e":0.12},{"t":21.3,"e":-0.32},{"t":21.4,"e":0.07},{"t":21.5,"e":-0.16},{"t":21.6,"e":0.08},{"t":21.7,"e":-0.2},{"t":21.8,"e":0.1},{"t":21.9,"e":-0.17},{"t":22.0,"e":0.29},
{"t":22.1,"e":-0.22},{"t":22.2,"e":0.05},{"t":22.3,"e":-0.18},{"t":22.4,"e":0.25},{"t":22.5,"e":-0.24},{"t":22.6,"e":0.0},{"t":22.7,"e":-0.56},{"t":22.8,"e":0.08},{"t":22.9,"e":-0.21},{"t":23.0,"e":0.05},{"t":23.1,"e":-0.22},{"t":23.2,"e":0.03},{"t":23.3,"e":-0.23},{"t":23.4,"e":0.22},{"t":23.5,"e":-0.16},{"t":23.6,"e":0.06},{"t":23.7,"e":-0.2},{"t":23.8,"e":0.1},{"t":23.9,"e":-0.2},{"t":24.0,"e":0.04},
{"t":24.1,"e":-0.22},{"t":24.2,"e":0.37},{"t":24.3,"e":-0.22},{"t":24.4,"e":0.1},{"t":24.5,"e":-0.24},{"t":24.6,"e":0.0},{"t":24.7,"e":-0.15},{"t":24.8,"e":0.3},{"t":24.9,"e":-0.21},{"t":25.0,"e":0.12},{"t":25.1,"e":-0.19},{"t":25.2,"e":0.1},{"t":25.3,"e":-0.23},{"t":25.4,"e":0.07},{"t":25.5,"e":-0.16},{"t":25.6,"e":0.26},{"t":25.7,"e":-0.39},{"t":25.8,"e":0.1},{"t":25.9,"e":-0.17},{"t":26.0,"e":0.49},
{"t":26.1,"e":-0.22},{"t":26.2,"e":0.05},{"t":26.3,"e":-0.18},{"t":26.4,"e":0.05},{"t":26.5,"e":-0.24},{"t":26.6,"e":0.0},{"t":26.7,"e":-0.15},{"t":26.8,"e":0.12},{"t":26.9,"e":-0.21},{"t":27.0,"e":0.12},{"t":27.1,"e":-0.19},{"t":27.2,"e":0.15},{"t":27.3,"e":-0.23},{"t":27.4,"e":0.07},{"t":27.5,"e":-0.16},{"t":27.6,"e":0.0},{"t":27.7,"e":-0.22},{"t":27.8,"e":0.1},{"t":27.9,"e":-0.17},{"t":28.0,"e":0.1},
{"t":28.1,"e":-0.22},{"t":28.2,"e":0.05},{"t":28.3,"e":-0.18},{"t":28.4,"e":0.05},{"t":28.5,"e":-0.24},{"t":28.6,"e":0.27},{"t":28.7,"e":-0.2},{"t":28.8,"e":0.08},{"t":28.9,"e":-0.21},{"t":29.0,"e":0.15},{"t":29.1,"e":-0.34},{"t":29.2,"e":0.03},{"t":29.3,"e":-0.23},{"t":29.4,"e":0.49},{"t":29.5,"e":-0.16},{"t":29.6,"e":0.5},{"t":29.7,"e":-0.2},{"t":29.8,"e":0.1},{"t":29.9,"e":-0.17},{"t":30.0,"e":0.37},
{"t":30.1,"e":-0.22},{"t":30.2,"e":0.05},{"t":30.3,"e":-0.18},{"t":30.4,"e":0.44},{"t":30.5,"e":-0.98},{"t":30.6,"e":0.0},{"t":30.7,"e":-0.67},{"t":30.8,"e":0.08},{"t":30.9,"e":-0.21},{"t":31.0,"e":0.36},{"t":31.1,"e":-0.2},{"t":31.2,"e":0.03},{"t":31.3,"e":-0.23},{"t":31.4,"e":0.28},{"t":31.5,"e":-0.22},{"t":31.6,"e":0.06},{"t":31.7,"e":-0.57},{"t":31.8,"e":0.1},{"t":31.9,"e":-0.17},{"t":32.0,"e":0.45},
{"t":32.1,"e":-0.4},{"t":32.2,"e":0.05},{"t":32.3,"e":-0.18},{"t":32.4,"e":0.1},{"t":32.5,"e":-0.24},{"t":32.6,"e":0.0},{"t":32.7,"e":-0.15},{"t":32.8,"e":0.48},{"t":32.9,"e":-0.22},{"t":33.0,"e":0.12},{"t":33.1,"e":-0.19},{"t":33.2,"e":0.05},{"t":33.3,"e":-0.23},{"t":33.4,"e":0.07},{"t":33.5,"e":-0.16},{"t":33.6,"e":0.15},{"t":33.7,"e":-0.2},{"t":33.8,"e":0.28},{"t":33.9,"e":-0.67},{"t":34.0,"e":0.04},
{"t":34.1,"e":-0.22},{"t":34.2,"e":0.05},{"t":34.3,"e":-0.22},{"t":34.4,"e":0.1},{"t":34.5,"e":-0.24},{"t":34.6,"e":0.12},{"t":34.7,"e":-0.32},{"t":34.8,"e":0.08},{"t":34.9,"e":-0.21},{"t":35.0,"e":0.1},{"t":35.1,"e":-0.2},{"t":35.2,"e":0.03},{"t":35.3,"e":-0.23},{"t":35.4,"e":0.27},{"t":35.5,"e":-0.16},{"t":35.6,"e":0.31},{"t":35.7,"e":-0.98},{"t":35.8,"e":0.1},{"t":35.9,"e":-0.64},{"t":36.0,"e":0.04},
{"t":36.1,"e":-0.22},{"t":36.2,"e":0.1},{"t":36.3,"e":-0.2},{"t":36.4,"e":0.1},{"t":36.5,"e":-0.24},{"t":36.6,"e":0.16},{"t":36.7,"e":-0.91},{"t":36.8,"e":0.08},{"t":36.9,"e":-0.21},{"t":37.0,"e":0.56},{"t":37.1,"e":-0.19},{"t":37.2,"e":0.03},{"t":37.3,"e":-0.23},{"t":37.4,"e":0.41},{"t":37.5,"e":-0.69},{"t":37.6,"e":0.06},{"t":37.7,"e":-0.2},{"t":37.8,"e":0.28},{"t":37.9,"e":-0.2},{"t":38.0,"e":0.04},
{"t":38.1,"e":-0.22},{"t":38.2,"e":0.05},{"t":38.3,"e":-0.22},{"t":38.4,"e":0.1},{"t":38.5,"e":-0.24},{"t":38.6,"e":0.15},{"t":38.7,"e":-0.84},{"t":38.8,"e":0.08},{"t":38.9,"e":-0.21},{"t":39.0,"e":0.1},{"t":39.1,"e":-0.39},{"t":39.2,"e":0.03},{"t":39.3,"e":-0.45},{"t":39.4,"e":0.07},{"t":39.5,"e":-0.16},{"t":39.6,"e":0.05},{"t":39.7,"e":-0.22},{"t":39.8,"e":0.1},{"t":39.9,"e":-0.17},{"t":40.0,"e":0.2},
{"t":40.1,"e":-0.22},{"t":40.2,"e":0.05},{"t":40.3,"e":-0.98},{"t":40.4,"e":0.1},{"t":40.5,"e":-0.24},{"t":40.6,"e":0.08},{"t":40.7,"e":-0.2},{"t":40.8,"e":0.08},{"t":40.9,"e":-0.56},{"t":41.0,"e":0.12},{"t":41.1,"e":-0.19},{"t":41.2,"e":0.1},{"t":41.3,"e":-0.23},{"t":41.4,"e":0.07},{"t":41.5,"e":-0.16},{"t":41.6,"e":0.15},{"t":41.7,"e":-0.2},{"t":41.8,"e":0.3},{"t":41.9,"e":-0.2},{"t":42.0,"e":0.04},
{"t":42.1,"e":-0.22},{"t":42.2,"e":0.1},{"t":42.3,"e":-0.18},{"t":42.4,"e":0.48},{"t":42.5,"e":-0.51},{"t":42.6,"e":0.0},{"t":42.7,"e":-0.15},{"t":42.8,"e":0.15},{"t":42.9,"e":-0.21},{"t":43.0,"e":0.12},{"t":43.1,"e":-0.98},{"t":43.2,"e":0.03},{"t":43.3,"e":-0.23},{"t":43.4,"e":0.3},{"t":43.5,"e":-0.16},{"t":43.6,"e":0.06},{"t":43.7,"e":-0.2},{"t":43.8,"e":0.2},{"t":43.9,"e":-0.18},{"t":44.0,"e":0.04},
{"t":44.1,"e":-0.22},{"t":44.2,"e":0.3},{"t":44.3,"e":-0.2},{"t":44.4,"e":0.1},{"t":44.5,"e":-0.24},{"t":44.6,"e":0.44},{"t":44.7,"e":-0.15},{"t":44.8,"e":0.08},{"t":44.9,"e":-0.21},{"t":45.0,"e":0.25},{"t":45.1,"e":-0.19},{"t":45.2,"e":0.37},{"t":45.3,"e":-0.23},{"t":45.4,"e":0.07},{"t":45.5,"e":-0.16},{"t":45.6,"e":0.2},{"t":45.7,"e":-0.45},{"t":45.8,"e":0.1},{"t":45.9,"e":-0.17},{"t":46.0,"e":0.15},
{"t":46.1,"e":-0.22},{"t":46.2,"e":0.05},{"t":46.3,"e":-0.18},{"t":46.4,"e":0.31},{"t":46.5,"e":-0.24},{"t":46.6,"e":0.0},{"t":46.7,"e":-0.15},{"t":46.8,"e":0.1},{"t":46.9,"e":-0.22},{"t":47.0,"e":0.12},{"t":47.1,"e":-0.6},{"t":47.2,"e":0.03},{"t":47.3,"e":-0.23},{"t":47.4,"e":0.52},{"t":47.5,"e":-0.82},{"t":47.6,"e":0.06},{"t":47.7,"e":-0.2},{"t":47.8,"e":0.1},{"t":47.9,"e":-0.55},{"t":48.0,"e":0.04},
{"t":48.1,"e":-0.22},{"t":48.2,"e":0.2},{"t":48.3,"e":-0.18},{"t":48.4,"e":1.02},{"t":48.5,"e":-0.24},{"t":48.6,"e":0.0},{"t":48.7,"e":-0.32},{"t":48.8,"e":0.08},{"t":48.9,"e":-0.21},{"t":49.0,"e":0.8},{"t":49.1,"e":-0.69},{"t":49.2,"e":0.03},{"t":49.3,"e":-0.23},{"t":49.4,"e":0.6},{"t":49.5,"e":-0.2},{"t":49.6,"e":0.06},{"t":49.7,"e":-0.2},{"t":49.8,"e":0.1},{"t":49.9,"e":-0.17},{"t":50.0,"e":0.25},
{"t":50.1,"e":-0.22},{"t":50.2,"e":0.05},{"t":50.3,"e":-0.39},{"t":50.4,"e":0.1},{"t":50.5,"e":-0.24},{"t":50.6,"e":0.25},{"t":50.7,"e":-0.2},{"t":50.8,"e":0.08},{"t":50.9,"e":-0.21},{"t":51.0,"e":0.39},{"t":51.1,"e":-0.19},{"t":51.2,"e":0.03},{"t":51.3,"e":-0.23},{"t":51.4,"e":0.05},{"t":51.5,"e":-0.22},{"t":51.6,"e":0.06},{"t":51.7,"e":-0.2},{"t":51.8,"e":0.15},{"t":51.9,"e":-0.2},{"t":52.0,"e":0.04},
{"t":52.1,"e":-0.22},{"t":52.2,"e":0.34},{"t":52.3,"e":-0.18},{"t":52.4,"e":0.1},{"t":52.5,"e":-0.39},{"t":52.6,"e":0.0},{"t":52.7,"e":-0.15},{"t":52.8,"e":0.1},{"t":52.9,"e":-0.21},{"t":53.0,"e":0.12},{"t":53.1,"e":-0.19},{"t":53.2,"e":0.15},{"t":53.3,"e":-0.23},{"t":53.4,"e":0.33},{"t":53.5,"e":-0.22},{"t":53.6,"e":0.06},{"t":53.7,"e":-0.2},{"t":53.8,"e":0.05},{"t":53.9,"e":-0.17},{"t":54.0,"e":0.18},
{"t":54.1,"e":-0.22},{"t":54.2,"e":0.05},{"t":54.3,"e":-0.18},{"t":54.4,"e":0.1},{"t":54.5,"e":-0.24},{"t":54.6,"e":0.0},{"t":54.7,"e":-0.15},{"t":54.8,"e":0.2},{"t":54.9,"e":-0.21},{"t":55.0,"e":0.12},{"t":55.1,"e":-0.64},{"t":55.2,"e":0.03},{"t":55.3,"e":-0.23},{"t":55.4,"e":0.1},{"t":55.5,"e":-0.16},{"t":55.6,"e":0.25},{"t":55.7,"e":-0.2},{"t":55.8,"e":0.1},{"t":55.9,"e":-0.17},{"t":56.0,"e":0.05},
{"t":56.1,"e":-0.22},{"t":56.2,"e":0.05},{"t":56.3,"e":-0.18},{"t":56.4,"e":0.15},{"t":56.5,"e":-0.24},{"t":56.6,"e":0.51},{"t":56.7,"e":-0.2},{"t":56.8,"e":0.08},{"t":56.9,"e":-0.21},{"t":57.0,"e":0.35},{"t":57.1,"e":-0.19},{"t":57.2,"e":0.03},{"t":57.3,"e":-0.23},{"t":57.4,"e":0.1},{"t":57.5,"e":-0.47},{"t":57.6,"e":0.06},{"t":57.7,"e":-0.2},{"t":57.8,"e":0.05},{"t":57.9,"e":-0.2},{"t":58.0,"e":0.04},
{"t":58.1,"e":-0.3},{"t":58.2,"e":0.05},{"t":58.3,"e":-0.18},{"t":58.4,"e":0.59},{"t":58.5,"e":-0.24},{"t":58.6,"e":0.28},{"t":58.7,"e":-0.2},{"t":58.8,"e":0.08},{"t":58.9,"e":-0.21},{"t":59.0,"e":0.1},{"t":59.1,"e":-0.22},{"t":59.2,"e":0.03},{"t":59.3,"e":-0.23},{"t":59.4,"e":0.05},{"t":59.5,"e":-0.16},{"t":59.6,"e":0.06},{"t":59.7,"e":-0.2},{"t":59.8,"e":0.12},{"t":59.9,"e":-0.17},{"t":60.0,"e":0.16},
{"t":60.1,"e":-0.55},{"t":60.2,"e":0.05},{"t":60.3,"e":-0.2},{"t":60.4,"e":-0.12}
],
"cf":[
{"t":0.1,"e":-0.1},{"t":0.2,"e":0.1},{"t":0.3,"e":-0.06},{"t":0.4,"e":0.16},{"t":0.5,"e":-0.25},{"t":0.6,"e":0.08},{"t":0.7,"e":-0.04},{"t":0.8,"e":0.12},{"t":0.9,"e":-0.1},{"t":1.0,"e":0.15},{"t":1.1,"e":-0.07},{"t":1.2,"e":0.12},{"t":1.3,"e":-0.24},{"t":1.4,"e":0.13},{"t":1.5,"e":-0.05},{"t":1.6,"e":0.11},{"t":1.7,"e":-0.08},{"t":1.8,"e":0.07},{"t":1.9,"e":-0.1},{"t":2.0,"e":0.22},
{"t":2.1,"e":-0.24},{"t":2.2,"e":0.1},{"t":2.3,"e":-0.06},{"t":2.4,"e":0.12},{"t":2.5,"e":-0.12},{"t":2.6,"e":0.08},{"t":2.7,"e":-0.04},{"t":2.8,"e":0.15},{"t":2.9,"e":-0.09},{"t":3.0,"e":0.15},{"t":3.1,"e":-0.27},{"t":3.2,"e":0.09},{"t":3.3,"e":-0.11},{"t":3.4,"e":0.13},{"t":3.5,"e":-0.05},{"t":3.6,"e":0.17},{"t":3.7,"e":-0.12},{"t":3.8,"e":0.07},{"t":3.9,"e":-0.1},{"t":4.0,"e":0.12},
{"t":4.1,"e":-0.1},{"t":4.2,"e":0.19},{"t":4.3,"e":-0.1},{"t":4.4,"e":0.14},{"t":4.5,"e":-0.24},{"t":4.6,"e":0.08},{"t":4.7,"e":-0.04},{"t":4.8,"e":0.12},{"t":4.9,"e":-0.09},{"t":5.0,"e":0.36},{"t":5.1,"e":-0.15},{"t":5.2,"e":0.09},{"t":5.3,"e":-0.11},{"t":5.4,"e":0.15},{"t":5.5,"e":-0.05},{"t":5.6,"e":0.11},{"t":5.7,"e":-0.29},{"t":5.8,"e":0.07},{"t":5.9,"e":-0.1},{"t":6.0,"e":0.12},
{"t":6.1,"e":-0.1},{"t":6.2,"e":0.19},{"t":6.3,"e":-0.1},{"t":6.4,"e":0.14},{"t":6.5,"e":-0.24},{"t":6.6,"e":0.08},{"t":6.7,"e":-0.04},{"t":6.8,"e":0.12},{"t":6.9,"e":-0.09},{"t":7.0,"e":0.15},{"t":7.1,"e":-0.07},{"t":7.2,"e":0.16},{"t":7.3,"e":-0.15},{"t":7.4,"e":0.13},{"t":7.5,"e":-0.05},{"t":7.6,"e":0.11},{"t":7.7,"e":-0.08},{"t":7.8,"e":0.14},{"t":7.9,"e":-0.12},{"t":8.0,"e":0.12},
{"t":8.1,"e":-0.1},{"t":8.2,"e":0.1},{"t":8.3,"e":-0.31},{"t":8.4,"e":0.14},{"t":8.5,"e":-0.12},{"t":8.6,"e":0.08},{"t":8.7,"e":-0.05},{"t":8.8,"e":0.12},{"t":8.9,"e":-0.09},{"t":9.0,"e":0.31},{"t":9.1,"e":-0.1},{"t":9.2,"e":0.09},{"t":9.3,"e":-0.11},{"t":9.4,"e":0.3},{"t":9.5,"e":-0.05},{"t":9.6,"e":0.11},{"t":9.7,"e":-0.08},{"t":9.8,"e":0.07},{"t":9.9,"e":-0.21},{"t":10.0,"e":0.12},
{"t":10.1,"e":-0.1},{"t":10.2,"e":0.2},{"t":10.3,"e":-0.08},{"t":10.4,"e":0.14},{"t":10.5,"e":-0.12},{"t":10.6,"e":0.12},{"t":10.7,"e":-0.04},{"t":10.8,"e":0.27},{"t":10.9,"e":-0.12},{"t":11.0,"e":0.15},{"t":11.1,"e":-0.07},{"t":11.2,"e":0.18},{"t":11.3,"e":-0.11},{"t":11.4,"e":0.13},{"t":11.5,"e":-0.05},{"t":11.6,"e":0.3},{"t":11.7,"e":-0.24},{"t":11.8,"e":0.07},{"t":11.9,"e":-0.1},{"t":12.0,"e":0.12},
{"t":12.1,"e":-0.1},{"t":12.2,"e":0.1},{"t":12.3,"e":-0.06},{"t":12.4,"e":0.2},{"t":12.5,"e":-0.12},{"t":12.6,"e":0.08},{"t":12.7,"e":-0.04},{"t":12.8,"e":0.12},{"t":12.9,"e":-0.15},{"t":13.0,"e":0.15},{"t":13.1,"e":-0.07},{"t":13.2,"e":0.09},{"t":13.3,"e":-0.18},{"t":13.4,"e":0.13},{"t":13.5,"e":-0.05},{"t":13.6,"e":0.11},{"t":13.7,"e":-0.08},{"t":13.8,"e":0.07},{"t":13.9,"e":-0.19},{"t":14.0,"e":0.12},
{"t":14.1,"e":-0.1},{"t":14.2,"e":0.12},{"t":14.3,"e":-0.08},{"t":14.4,"e":0.14},{"t":14.5,"e":-0.12},{"t":14.6,"e":0.15},{"t":14.7,"e":-0.1},{"t":14.8,"e":0.12},{"t":14.9,"e":-0.09},{"t":15.0,"e":0.15},{"t":15.1,"e":-0.07},{"t":15.2,"e":0.24},{"t":15.3,"e":-0.12},{"t":15.4,"e":0.13},{"t":15.5,"e":-0.05},{"t":15.6,"e":0.11},{"t":15.7,"e":-0.08},{"t":15.8,"e":0.2},{"t":15.9,"e":-0.2},{"t":16.0,"e":0.12},
{"t":16.1,"e":-0.1},{"t":16.2,"e":0.1},{"t":16.3,"e":-0.06},{"t":16.4,"e":0.14},{"t":16.5,"e":-0.12},{"t":16.6,"e":0.16},{"t":16.7,"e":-0.1},{"t":16.8,"e":0.12},{"t":16.9,"e":-0.09},{"t":17.0,"e":0.12},{"t":17.1,"e":-0.07},{"t":17.2,"e":0.09},{"t":17.3,"e":-0.11},{"t":17.4,"e":0.17},{"t":17.5,"e":-0.12},{"t":17.6,"e":0.11},{"t":17.7,"e":-0.08},{"t":17.8,"e":0.07},{"t":17.9,"e":-0.1},{"t":18.0,"e":0.12},
{"t":18.1,"e":-0.1},{"t":18.2,"e":0.12},{"t":18.3,"e":-0.06},{"t":18.4,"e":0.26},{"t":18.5,"e":-0.2},{"t":18.6,"e":0.08},{"t":18.7,"e":-0.04},{"t":18.8,"e":0.12},{"t":18.9,"e":-0.18},{"t":19.0,"e":0.15},{"t":19.1,"e":-0.07},{"t":19.2,"e":0.09},{"t":19.3,"e":-0.11},{"t":19.4,"e":0.13},{"t":19.5,"e":-0.05},{"t":19.6,"e":0.15},{"t":19.7,"e":-0.08},{"t":19.8,"e":0.3},{"t":19.9,"e":-0.1},{"t":20.0,"e":0.12},
{"t":20.1,"e":-0.1},{"t":20.2,"e":0.27},{"t":20.3,"e":-0.06},{"t":20.4,"e":0.14},{"t":20.5,"e":-0.12},{"t":20.6,"e":0.08},{"t":20.7,"e":-0.24},{"t":20.8,"e":0.12},{"t":20.9,"e":-0.09},{"t":21.0,"e":0.12},{"t":21.1,"e":-0.07},{"t":21.2,"e":0.09},{"t":21.3,"e":-0.23},{"t":21.4,"e":0.13},{"t":21.5,"e":-0.05},{"t":21.6,"e":0.11},{"t":21.7,"e":-0.08},{"t":21.8,"e":0.07},{"t":21.9,"e":-0.1},{"t":22.0,"e":0.14},
{"t":22.1,"e":-0.1},{"t":22.2,"e":0.1},{"t":22.3,"e":-0.06},{"t":22.4,"e":0.18},{"t":22.5,"e":-0.12},{"t":22.6,"e":0.08},{"t":22.7,"e":-0.04},{"t":22.8,"e":0.12},{"t":22.9,"e":-0.09},{"t":23.0,"e":0.18},{"t":23.1,"e":-0.12},{"t":23.2,"e":0.09},{"t":23.3,"e":-0.15},{"t":23.4,"e":0.13},{"t":23.5,"e":-0.05},{"t":23.6,"e":0.11},{"t":23.7,"e":-0.08},{"t":23.8,"e":0.07},{"t":23.9,"e":-0.1},{"t":24.0,"e":0.12},
{"t":24.1,"e":-0.1},{"t":24.2,"e":0.1},{"t":24.3,"e":-0.06},{"t":24.4,"e":0.14},{"t":24.5,"e":-0.12},{"t":24.6,"e":0.08},{"t":24.7,"e":-0.04},{"t":24.8,"e":0.15},{"t":24.9,"e":-0.09},{"t":25.0,"e":0.52},{"t":25.1,"e":-0.24},{"t":25.2,"e":0.09},{"t":25.3,"e":-0.11},{"t":25.4,"e":0.13},{"t":25.5,"e":-0.05},{"t":25.6,"e":0.11},{"t":25.7,"e":-0.08},{"t":25.8,"e":0.12},{"t":25.9,"e":-0.1},{"t":26.0,"e":0.12},
{"t":26.1,"e":-0.1},{"t":26.2,"e":0.1},{"t":26.3,"e":-0.06},{"t":26.4,"e":0.27},{"t":26.5,"e":-0.12},{"t":26.6,"e":0.08},{"t":26.7,"e":-0.1},{"t":26.8,"e":0.12},{"t":26.9,"e":-0.09},{"t":27.0,"e":0.15},{"t":27.1,"e":-0.07},{"t":27.2,"e":0.09},{"t":27.3,"e":-0.11},{"t":27.4,"e":0.12},{"t":27.5,"e":-0.24},{"t":27.6,"e":0.11},{"t":27.7,"e":-0.08},{"t":27.8,"e":0.07},{"t":27.9,"e":-0.1},{"t":28.0,"e":0.12},
{"t":28.1,"e":-0.1},{"t":28.2,"e":0.18},{"t":28.3,"e":-0.06},{"t":28.4,"e":0.14},{"t":28.5,"e":-0.12},{"t":28.6,"e":0.08},{"t":28.7,"e":-0.04},{"t":28.8,"e":0.31},{"t":28.9,"e":-0.2},{"t":29.0,"e":0.15},{"t":29.1,"e":-0.07},{"t":29.2,"e":0.3},{"t":29.3,"e":-0.21},{"t":29.4,"e":0.13},{"t":29.5,"e":-0.05},{"t":29.6,"e":0.11},{"t":29.7,"e":-0.08},{"t":29.8,"e":0.07},{"t":29.9,"e":-0.1},{"t":30.0,"e":0.12},
{"t":30.1,"e":-0.26},{"t":30.2,"e":0.1},{"t":30.3,"e":-0.06},{"t":30.4,"e":0.14},{"t":30.5,"e":-0.12},{"t":30.6,"e":0.08},{"t":30.7,"e":-0.04},{"t":30.8,"e":0.22},{"t":30.9,"e":-0.1},{"t":31.0,"e":0.15},{"t":31.1,"e":-0.07},{"t":31.2,"e":0.09},{"t":31.3,"e":-0.11},{"t":31.4,"e":0.27},{"t":31.5,"e":-0.26},{"t":31.6,"e":0.11},{"t":31.7,"e":-0.08},{"t":31.8,"e":0.07},{"t":31.9,"e":-0.1},{"t":32.0,"e":0.12},
{"t":32.1,"e":-0.1},{"t":32.2,"e":0.12},{"t":32.3,"e":-0.06},{"t":32.4,"e":0.14},{"t":32.5,"e":-0.26},{"t":32.6,"e":0.08},{"t":32.7,"e":-0.04},{"t":32.8,"e":0.12},{"t":32.9,"e":-0.09},{"t":33.0,"e":0.17},{"t":33.1,"e":-0.1},{"t":33.2,"e":0.09},{"t":33.3,"e":-0.11},{"t":33.4,"e":0.13},{"t":33.5,"e":-0.05},{"t":33.6,"e":0.11},{"t":33.7,"e":-0.15},{"t":33.8,"e":0.07},{"t":33.9,"e":-0.1},{"t":34.0,"e":0.12},
{"t":34.1,"e":-0.12},{"t":34.2,"e":0.1},{"t":34.3,"e":-0.38},{"t":34.4,"e":0.14},{"t":34.5,"e":-0.12},{"t":34.6,"e":0.08},{"t":34.7,"e":-0.04},{"t":34.8,"e":0.29},{"t":34.9,"e":-0.09},{"t":35.0,"e":0.15},{"t":35.1,"e":-0.07},{"t":35.2,"e":0.09},{"t":35.3,"e":-0.15},{"t":35.4,"e":0.13},{"t":35.5,"e":-0.05},{"t":35.6,"e":0.11},{"t":35.7,"e":-0.08},{"t":35.8,"e":0.16},{"t":35.9,"e":-0.1},{"t":36.0,"e":0.12},
{"t":36.1,"e":-0.1},{"t":36.2,"e":0.1},{"t":36.3,"e":-0.06},{"t":36.4,"e":0.19},{"t":36.5,"e":-0.12},{"t":36.6,"e":0.08},{"t":36.7,"e":-0.15},{"t":36.8,"e":0.12},{"t":36.9,"e":-0.09},{"t":37.0,"e":0.15},{"t":37.1,"e":-0.08},{"t":37.2,"e":0.09},{"t":37.3,"e":-0.11},{"t":37.4,"e":0.12},{"t":37.5,"e":-0.05},{"t":37.6,"e":0.21},{"t":37.7,"e":-0.26},{"t":37.8,"e":0.07},{"t":37.9,"e":-0.1},{"t":38.0,"e":0.12},
{"t":38.1,"e":-0.1},{"t":38.2,"e":0.12},{"t":38.3,"e":-0.1},{"t":38.4,"e":0.14},{"t":38.5,"e":-0.12},{"t":38.6,"e":0.08},{"t":38.7,"e":-0.05},{"t":38.8,"e":0.12},{"t":38.9,"e":-0.26},{"t":39.0,"e":0.15},{"t":39.1,"e":-0.07},{"t":39.2,"e":0.09},{"t":39.3,"e":-0.11},{"t":39.4,"e":0.13},{"t":39.5,"e":-0.05},{"t":39.6,"e":0.12},{"t":39.7,"e":-0.08},{"t":39.8,"e":0.23},{"t":39.9,"e":-0.1},{"t":40.0,"e":0.12},
{"t":40.1,"e":-0.1},{"t":40.2,"e":0.1},{"t":40.3,"e":-0.15},{"t":40.4,"e":0.14},{"t":40.5,"e":-0.12},{"t":40.6,"e":0.12},{"t":40.7,"e":-0.05},{"t":40.8,"e":0.12},{"t":40.9,"e":-0.09},{"t":41.0,"e":0.15},{"t":41.1,"e":-0.07},{"t":41.2,"e":0.32},{"t":41.3,"e":-0.17},{"t":41.4,"e":0.13},{"t":41.5,"e":-0.05},{"t":41.6,"e":0.11},{"t":41.7,"e":-0.08},{"t":41.8,"e":0.27},{"t":41.9,"e":-0.15},{"t":42.0,"e":0.12},
{"t":42.1,"e":-0.1},{"t":42.2,"e":0.1},{"t":42.3,"e":-0.06},{"t":42.4,"e":0.14},{"t":42.5,"e":-0.12},{"t":42.6,"e":0.12},{"t":42.7,"e":-0.1},{"t":42.8,"e":0.12},{"t":42.9,"e":-0.09},{"t":43.0,"e":0.15},{"t":43.1,"e":-0.07},{"t":43.2,"e":0.18},{"t":43.3,"e":-0.11},{"t":43.4,"e":0.13},{"t":43.5,"e":-0.26},{"t":43.6,"e":0.11},{"t":43.7,"e":-0.08},{"t":43.8,"e":0.07},{"t":43.9,"e":-0.1},{"t":44.0,"e":0.29},
{"t":44.1,"e":-0.1},{"t":44.2,"e":0.1},{"t":44.3,"e":-0.06},{"t":44.4,"e":0.14},{"t":44.5,"e":-0.15},{"t":44.6,"e":0.08},{"t":44.7,"e":-0.26},{"t":44.8,"e":0.12},{"t":44.9,"e":-0.09},{"t":45.0,"e":0.15},{"t":45.1,"e":-0.07},{"t":45.2,"e":0.09},{"t":45.3,"e":-0.11},{"t":45.4,"e":0.22},{"t":45.5,"e":-0.1},{"t":45.6,"e":0.11},{"t":45.7,"e":-0.08},{"t":45.8,"e":0.12},{"t":45.9,"e":-0.18},{"t":46.0,"e":0.12},
{"t":46.1,"e":-0.1},{"t":46.2,"e":0.1},{"t":46.3,"e":-0.08},{"t":46.4,"e":0.14},{"t":46.5,"e":-0.12},{"t":46.6,"e":0.08},{"t":46.7,"e":-0.04},{"t":46.8,"e":0.16},{"t":46.9,"e":-0.1},{"t":47.0,"e":0.15},{"t":47.1,"e":-0.07},{"t":47.2,"e":0.09},{"t":47.3,"e":-0.11},{"t":47.4,"e":0.34},{"t":47.5,"e":-0.05},{"t":47.6,"e":0.11},{"t":47.7,"e":-0.08},{"t":47.8,"e":0.24},{"t":47.9,"e":-0.26},{"t":48.0,"e":0.12},
{"t":48.1,"e":-0.1},{"t":48.2,"e":0.1},{"t":48.3,"e":-0.06},{"t":48.4,"e":0.14},{"t":48.5,"e":-0.12},{"t":48.6,"e":0.12},{"t":48.7,"e":-0.1},{"t":48.8,"e":0.12},{"t":48.9,"e":-0.09},{"t":49.0,"e":0.15},{"t":49.1,"e":-0.07},{"t":49.2,"e":0.29},{"t":49.3,"e":-0.15},{"t":49.4,"e":0.13},{"t":49.5,"e":-0.05},{"t":49.6,"e":0.11},{"t":49.7,"e":-0.08},{"t":49.8,"e":0.19},{"t":49.9,"e":-0.1},{"t":50.0,"e":0.12},
{"t":50.1,"e":-0.22},{"t":50.2,"e":0.1},{"t":50.3,"e":-0.06},{"t":50.4,"e":0.14},{"t":50.5,"e":-0.12},{"t":50.6,"e":0.08},{"t":50.7,"e":-0.04},{"t":50.8,"e":0.12},{"t":50.9,"e":-0.1},{"t":51.0,"e":0.15},{"t":51.1,"e":-0.22},{"t":51.2,"e":0.09},{"t":51.3,"e":-0.11},{"t":51.4,"e":0.13},{"t":51.5,"e":-0.05},{"t":51.6,"e":0.27},{"t":51.7,"e":-0.08},{"t":51.8,"e":0.07},{"t":51.9,"e":-0.1},{"t":52.0,"e":0.14},
{"t":52.1,"e":-0.1},{"t":52.2,"e":0.1},{"t":52.3,"e":-0.06},{"t":52.4,"e":0.14},{"t":52.5,"e":-0.12},{"t":52.6,"e":0.25},{"t":52.7,"e":-0.05},{"t":52.8,"e":0.12},{"t":52.9,"e":-0.09},{"t":53.0,"e":0.12},{"t":53.1,"e":-0.07},{"t":53.2,"e":0.09},{"t":53.3,"e":-0.11},{"t":53.4,"e":0.15},{"t":53.5,"e":-0.05},{"t":53.6,"e":0.11},{"t":53.7,"e":-0.08},{"t":53.8,"e":0.07},{"t":53.9,"e":-0.1},{"t":54.0,"e":0.12},
{"t":54.1,"e":-0.1},{"t":54.2,"e":0.12},{"t":54.3,"e":-0.06},{"t":54.4,"e":0.14},{"t":54.5,"e":-0.12},{"t":54.6,"e":0.18},{"t":54.7,"e":-0.1},{"t":54.8,"e":0.12},{"t":54.9,"e":-0.09},{"t":55.0,"e":0.15},{"t":55.1,"e":-0.07},{"t":55.2,"e":0.42},{"t":55.3,"e":-0.11},{"t":55.4,"e":0.13},{"t":55.5,"e":-0.05},{"t":55.6,"e":0.11},{"t":55.7,"e":-0.12},{"t":55.8,"e":0.07},{"t":55.9,"e":-0.1},{"t":56.0,"e":0.12},
{"t":56.1,"e":-0.1},{"t":56.2,"e":0.1},{"t":56.3,"e":-0.22},{"t":56.4,"e":0.14},{"t":56.5,"e":-0.12},{"t":56.6,"e":0.08},{"t":56.7,"e":-0.04},{"t":56.8,"e":0.15},{"t":56.9,"e":-0.09},{"t":57.0,"e":0.15},{"t":57.1,"e":-0.07},{"t":57.2,"e":0.33},{"t":57.3,"e":-0.11},{"t":57.4,"e":0.13},{"t":57.5,"e":-0.05},{"t":57.6,"e":0.16},{"t":57.7,"e":-0.08},{"t":57.8,"e":0.07},{"t":57.9,"e":-0.1},{"t":58.0,"e":0.2},
{"t":58.1,"e":-0.1},{"t":58.2,"e":0.1},{"t":58.3,"e":-0.06},{"t":58.4,"e":0.14},{"t":58.5,"e":-0.12},{"t":58.6,"e":0.19},{"t":58.7,"e":-0.12},{"t":58.8,"e":0.12},{"t":58.9,"e":-0.09},{"t":59.0,"e":0.15},{"t":59.1,"e":-0.26},{"t":59.2,"e":0.09},{"t":59.3,"e":-0.11},{"t":59.4,"e":0.13},{"t":59.5,"e":-0.05},{"t":59.6,"e":0.29},{"t":59.7,"e":-0.08},{"t":59.8,"e":0.07},{"t":59.9,"e":-0.2},{"t":60.0,"e":0.12},
{"t":60.1,"e":-0.1},{"t":60.2,"e":0.12},{"t":60.3,"e":-0.08},{"t":60.4,"e":0.02}
]
},
"vconcat":[
{"title":"SIFT","width":464,"height":342,
"layer":[
{"data":{"name":"lim"},"mark":{"type":"rule","color":"#eeeeee","strokeWidth":1.5},"encoding":{"y":{"field":"y","type":"quantitative","scale":{"domain":[-1,1],"nice":false,"zero":false}}}},
{"data":{"name":"sift"},"mark":{"type":"line","color":"#0173b2","strokeWidth":1.3,"clip":true},
"encoding":{"x":{"field":"t","type":"quantitative","scale":{"domain":[0,60],"nice":false,"zero":false},"axis":{"title":"Time [s]","values":[0,10,20,30,40,50,60],"format":"d"}},
"y":{"field":"e","type":"quantitative","scale":{"domain":[-1,1],"nice":false,"zero":false},"axis":{"title":"Error [rad]","values":[-1,-0.75,-0.5,-0.25,0,0.25,0.5,0.75,1],"format":".2f"}}}}
]},
{"title":"Superpoint","width":464,"height":342,
"layer":[
{"data":{"name":"lim"},"mark":{"type":"rule","color":"#eeeeee","strokeWidth":1.5},"encoding":{"y":{"field":"y","type":"quantitative","scale":{"domain":[-1,1],"nice":false,"zero":false}}}},
{"data":{"name":"sp"},"mark":{"type":"line","color":"#0173b2","strokeWidth":1.3,"clip":false},
"encoding":{"x":{"field":"t","type":"quantitative","scale":{"domain":[0,60],"nice":false,"zero":false},"axis":{"title":"Time [s]","values":[0,10,20,30,40,50,60],"format":"d"}},
"y":{"field":"e","type":"quantitative","scale":{"domain":[-1,1],"nice":false,"zero":false},"axis":{"title":"Error [rad]","values":[-1,-0.75,-0.5,-0.25,0,0.25,0.5,0.75,1],"format":".2f"}}}}
]},
{"title":"COFFEE (ours)","width":464,"height":342,
"layer":[
{"data":{"name":"lim"},"mark":{"type":"rule","color":"#eeeeee","strokeWidth":1.5},"encoding":{"y":{"field":"y","type":"quantitative","scale":{"domain":[-1,1],"nice":false,"zero":false}}}},
{"data":{"name":"cf"},"mark":{"type":"line","color":"#0173b2","strokeWidth":1.3,"clip":false},
"encoding":{"x":{"field":"t","type":"quantitative","scale":{"domain":[0,60],"nice":false,"zero":false},"axis":{"title":"Time [s]","values":[0,10,20,30,40,50,60],"format":"d"}},
"y":{"field":"e","type":"quantitative","scale":{"domain":[-1,1],"nice":false,"zero":false},"axis":{"title":"Error [rad]","values":[-1,-0.75,-0.5,-0.25,0,0.25,0.5,0.75,1],"format":".2f"}}}}
]}
]
}
